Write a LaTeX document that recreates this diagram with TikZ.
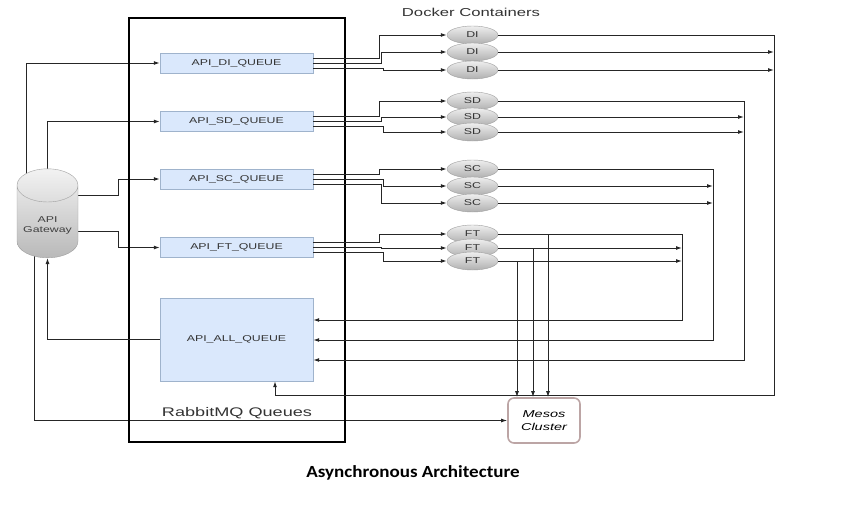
\documentclass[tikz,border=0pt]{standalone}
\usepackage{fontspec}
\setmainfont{Liberation Sans}
\newfontfamily\diagfont[FakeStretch=1.45]{Liberation Sans}
\newfontfamily\titlefont[FakeStretch=1.12]{Carlito}
\usetikzlibrary{shapes.geometric,arrows.meta,backgrounds,calc}

\definecolor{queueFill}{HTML}{DAE8FC}
\definecolor{queueDraw}{HTML}{9FB3CC}
\definecolor{podTop}{HTML}{EEEEEE}
\definecolor{podBottom}{HTML}{B0B0B0}
\definecolor{flowGray}{HTML}{262626}
\definecolor{mesosDraw}{HTML}{BCA5A5}

\newcommand{\flowLineWidth}{1pt}
\newcommand{\rabbitLineWidth}{1.8pt}
\newcommand{\queueX}{236.5}
\newcommand{\dockerX}{472.5}
\newcommand{\splitA}{66}
\newcommand{\splitB}{68}
\newcommand{\splitC}{70}

\tikzset{
  queue/.style={draw=queueDraw, fill=queueFill, minimum width=153pt, minimum height=20pt,
    inner sep=0pt, text=black!80, font=\diagfont\fontsize{8.5}{10}\selectfont},
  pod/.style={ellipse, draw=gray!75, top color=podTop, bottom color=podBottom,
    minimum width=51pt, minimum height=18pt, inner sep=0pt, text=black!80,
    font=\diagfont\fontsize{8.5}{10}\selectfont},
  flow/.style={draw=flowGray, line width=\flowLineWidth, -{Latex[length=6pt,width=4pt]}},
  label/.style={text=black!80, inner sep=0pt}
}

\begin{document}
\begin{tikzpicture}[x=1pt,y=-1pt]
        \useasboundingbox (0,0) rectangle (863,506);

        % RabbitMQ
        \node[draw, line width=\rabbitLineWidth, minimum width=216pt, minimum height=424pt] (rabbit) at (237,230) {};
        \node[label, font=\diagfont\fontsize{12.5}{14}\selectfont] (rabbitlbl) at (237,413) {RabbitMQ Queues};
        \node[queue] (diq) at (\queueX,63) {API\_DI\_QUEUE};
        \node[queue] (sdq) at (\queueX,121.5) {API\_SD\_QUEUE};
        \node[queue] (scq) at (\queueX,179) {API\_SC\_QUEUE};
        \node[queue] (ftq) at (\queueX,247.5) {API\_FT\_QUEUE};
        \node[queue, minimum height=83pt] (allq) at (\queueX,339.5) {API\_ALL\_QUEUE};

        % Gateway and Mesos
        \node[cylinder, shape border rotate=90, aspect=0.6, minimum width=61pt, minimum height=89pt,
          draw=gray!75, top color=gray!10, bottom color=gray!55, align=center, text=black!75,
          anchor=south, font=\diagfont\fontsize{8.5}{9.5}\selectfont] (gw) at (47.5,258) {API\\Gateway};
        \node[draw=mesosDraw, line width=1.6pt, rounded corners=6pt, minimum width=72pt, minimum height=45pt,
          align=center, font=\diagfont\itshape\fontsize{10}{12.5}\selectfont] (mesos) at (544,420.5) {Mesos\\Cluster};

        % Docker containers
        \node[label, font=\diagfont\fontsize{11.5}{13}\selectfont] (dockerlbl) at (471,12) {Docker Containers};
        \node[pod] (di1) at (\dockerX,35) {DI};
        \node[pod] (di2) at (\dockerX,52) {DI};
        \node[pod] (di3) at (\dockerX,70) {DI};
        \node[pod] (sd1) at (\dockerX,101) {SD};
        \node[pod] (sd2) at (\dockerX,117) {SD};
        \node[pod] (sd3) at (\dockerX,132) {SD};
        \node[pod] (sc1) at (\dockerX,169) {SC};
        \node[pod] (sc2) at (\dockerX,186) {SC};
        \node[pod] (sc3) at (\dockerX,203) {SC};
        \node[pod] (ft1) at (\dockerX,234) {FT};
        \node[pod] (ft2) at (\dockerX,248) {FT};
        \node[pod] (ft3) at (\dockerX,261) {FT};

        % Title
        \node[font=\titlefont\bfseries\fontsize{17}{20}\selectfont] (title) at (413,473) {Asynchronous Architecture};

        % Gateway to queues
        \begin{pgfonlayer}{background}
        \draw[flow] ([xshift=-21.5pt,yshift=40pt]gw.south) |- (diq.west);
        \draw[flow] ([yshift=40pt]gw.south) |- (sdq.west);
        \draw[flow] ([yshift=63pt]gw.south) -- ++(70.5,0) |- (scq.west);
        \draw[flow] ([yshift=27pt]gw.south) -- ++(70.5,0) |- (ftq.west);
        \draw[flow] ([xshift=-13.5pt,yshift=10pt]gw.south) |- (mesos.west);
        \end{pgfonlayer}
        \draw[flow] (allq.west) -| (gw.south);

        % Queues to containers
        \draw[flow] ([yshift=5pt]diq.east) -- ++(\splitA,0) |- (di1.west);
        \draw[flow] (diq.east) -- ++(\splitB,0) |- (di2.west);
        \draw[flow] ([yshift=-5pt]diq.east) -- ++(\splitC,0) |- (di3.west);
        \draw[flow] ([yshift=5pt]sdq.east) -- ++(\splitA,0) |- (sd1.west);
        \draw[flow] (sdq.east) -- ++(\splitB,0) |- (sd2.west);
        \draw[flow] ([yshift=-5pt]sdq.east) -- ++(\splitC,0) |- (sd3.west);
        \draw[flow] ([yshift=5pt]scq.east) -- ++(\splitA,0) |- (sc1.west);
        \draw[flow] (scq.east) -- ++(\splitC,0) |- (sc2.west);
        \draw[flow] ([yshift=-5pt]scq.east) -- ++(\splitB,0) |- (sc3.west);
        \draw[flow] ([yshift=5pt]ftq.east) -- ++(\splitA,0) |- (ft1.west);
        \draw[flow] (ftq.east) -- ++(\splitB,0) |- (ft2.west);
        \draw[flow] ([yshift=-5pt]ftq.east) -- ++(\splitC,0) |- (ft3.west);

        % Containers back to queues
        \coordinate (diback) at (774,395);
        \coordinate (sdback) at (744,360);
        \coordinate (scback) at (713,340);
        \coordinate (ftback) at (682,320);
        \draw[flow] (di1.east) -| (diback) -| ([xshift=38.5pt]allq.south);
        \draw[flow] (di2.east) -- (di2.east -| diback);
        \draw[flow] (di3.east) -- (di3.east -| diback);
        \draw[flow] (sd1.east) -| (sdback) -- (sdback -| allq.east);
        \draw[flow] (sd2.east) -- (sd2.east -| sdback);
        \draw[flow] (sd3.east) -- (sd3.east -| sdback);
        \draw[flow] (sc1.east) -| (scback) -- (scback -| allq.east);
        \draw[flow] (sc2.east) -- (sc2.east -| scback);
        \draw[flow] (sc3.east) -- (sc3.east -| scback);
        \draw[flow] (ft1.east) -| (ftback) -- (ftback -| allq.east);
        \draw[flow] (ft2.east) -- (ft2.east -| ftback);
        \draw[flow] (ft3.east) -- (ft3.east -| ftback);

        % FT containers to Mesos
        \draw[flow] ($(mesos.north |- ft1.east)+(4,0)$) -- ($(mesos.north)+(4,0)$);
        \draw[flow] ($(mesos.north |- ft2.east)+(-11,0)$) -- ($(mesos.north)+(-11,0)$);
        \draw[flow] ($(mesos.north |- ft3.east)+(-27,0)$) -- ($(mesos.north)+(-27,0)$);
    \end{tikzpicture}
\end{document}
